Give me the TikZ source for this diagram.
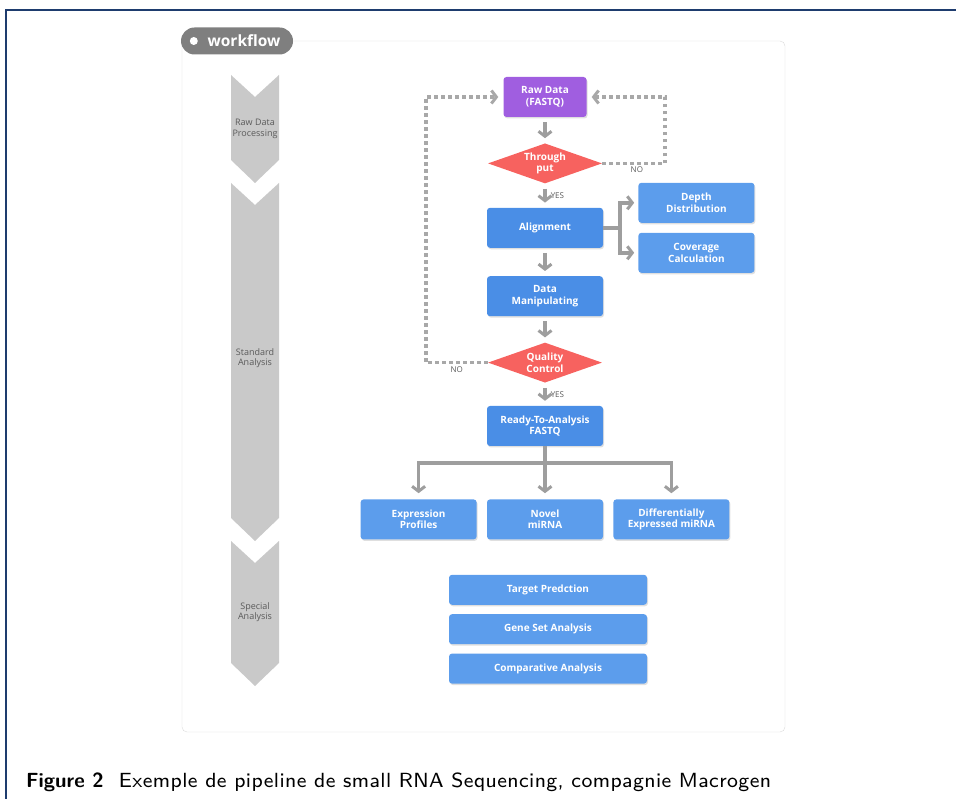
\documentclass[tikz,border=0pt]{standalone}
\usepackage{fontspec}
\newfontfamily\boxfont{Open Sans}
\newfontfamily\capfont{lmsans8-regular}[Extension=.otf, LetterSpace=2,
  BoldFont=lmsans10-bold, BoldFeatures={LetterSpace=0}]
\usepackage{tikz}
\usetikzlibrary{positioning, shapes.geometric, arrows.meta, shadows}
\definecolor{procblue}{HTML}{4A8EE6}
\definecolor{subblue}{HTML}{5C9DEC}
\definecolor{rawpurple}{HTML}{A05EE0}
\definecolor{decred}{HTML}{F7625F}
\definecolor{arrowgray}{HTML}{9E9E9E}
\definecolor{dotgray}{HTML}{A8A8A8}
\definecolor{chevgray}{HTML}{C9C9C9}
\definecolor{stagegray}{HTML}{5A5A5A}
\definecolor{panelline}{HTML}{DADADA}
\definecolor{pillgray}{HTML}{7F7F7F}
\definecolor{framenavy}{HTML}{1E3C6E}
\tikzset{>={Straight Barb[length=5pt, width=13pt, line width=3pt]}}
\tikzset{
  proc/.style={rectangle, rounded corners=3pt, fill=procblue, text=white,
    font=\boxfont\bfseries\fontsize{10}{11.5}\selectfont, align=center,
    minimum width=116pt, minimum height=40pt, inner sep=0pt,
    drop shadow={shadow xshift=1pt, shadow yshift=-1.5pt, opacity=.25}},
  subproc/.style={proc, fill=subblue},
  wideproc/.style={subproc, minimum width=198pt, minimum height=30pt},
  start/.style={proc, fill=rawpurple, minimum width=83pt},
  decision/.style={diamond, aspect=2.85, fill=decred, text=white,
    font=\boxfont\bfseries\fontsize{10}{11.5}\selectfont, align=center,
    minimum width=114pt, minimum height=40pt, inner sep=0pt},
  flow/.style={draw=arrowgray, line width=3.5pt, ->, shorten <=5pt, shorten >=5pt},
  flowline/.style={draw=arrowgray, line width=3.5pt},
  dotline/.style={draw=dotgray, line width=3.5pt, dash pattern=on 3.5pt off 3.5pt, ->, shorten >=5pt},
  stage/.style={text=stagegray, font=\boxfont\fontsize{9}{10.5}\selectfont, align=center},
  answer/.style={text=stagegray, font=\boxfont\fontsize{8}{9}\selectfont, inner sep=2pt},
  pill/.style={fill=pillgray, text=white, rounded corners=13.5pt, minimum width=112pt,
    minimum height=27pt, font=\boxfont\bfseries\fontsize{15.5}{17}\selectfont},
  caption/.style={font=\capfont\fontsize{20.5}{23}\selectfont, inner sep=0pt}
}

\begin{document}
\begin{tikzpicture}[x=1pt, y=-1pt]
\useasboundingbox (0,0) rectangle (956,799);
\draw[framenavy, line width=1.5pt] (6,799) -- (6,10) -- (956,10);
\draw[panelline, rounded corners=5pt] (182,41) rectangle (785,732);
\node[pill] (wf) at (237,41) {\hspace{14pt}workflow};
\fill[white] ([xshift=13pt]wf.west) circle (4);

\foreach \ytop/\ybot in {75/183, 183/541, 541/686}
  \fill[chevgray] (231,\ytop) -- (255,\ytop+22) -- (279,\ytop) -- (279,\ybot-23)
    -- (255,\ybot) -- (231,\ybot-23) -- cycle;
\node[stage] (rawstage) at (255,129) {Raw Data\\Processing};
\node[stage] (stdstage) at (255,358) {Standard\\Analysis};
\node[stage] (spcstage) at (255,612) {Special\\Analysis};

\node[start] (raw) at (545,97) {Raw Data\\(FASTQ)};
\node[decision, below=26pt of raw] (thru) {Through\\put};
\node[proc, below=24pt of thru] (align) {Alignment};
\node[subproc, right=35pt of align, yshift=25pt] (depth) {Depth\\Distribution};
\node[subproc, right=35pt of align, yshift=-25pt] (cover) {Coverage\\Calculation};
\node[proc, below=28pt of align] (manip) {Data\\Manipulating};
\node[decision, below=26pt of manip] (qc) {Quality\\Control};
\node[proc, below=23pt of qc] (ready) {Ready-To-Analysis\\FASTQ};
\node[subproc, below=53pt of ready] (novel) {Novel\\miRNA};
\node[subproc, left=10pt of novel] (expr) {Expression\\Profiles};
\node[subproc, right=10pt of novel] (diff) {Differentially\\Expressed miRNA};
\node[wideproc, below=35pt of novel, xshift=3pt] (target) {Target Predction};
\node[wideproc, below=9pt of target] (geneset) {Gene Set Analysis};
\node[wideproc, below=9pt of geneset] (compar) {Comparative Analysis};

\draw[flow] (raw) -- (thru);
\draw[flow] (thru) -- node[answer, right, xshift=2pt] (yes1) {YES} (align);
\draw[flow] (align) -- (manip);
\draw[flow] (manip) -- (qc);
\draw[flow] (qc) -- node[answer, right, xshift=2pt] (yes2) {YES} (ready);
\draw[dotline] (thru.east) -- node[answer, below, pos=.55] (no1) {NO} ++(63,0) |- (raw.east);
\draw[dotline] (qc.west) -- node[answer, below, pos=.5] (no2) {NO} ++(-62,0) |- (raw.west);

\draw[flowline] (align.east) -- ++(17,0) coordinate (split);
\draw[flow, shorten <=0pt, shorten >=4pt] (split) |- (depth);
\draw[flow, shorten <=0pt, shorten >=4pt] (split) |- (cover);

\draw[flowline] (ready.south) -- ++(0,17) coordinate (fork);
\draw[flow, shorten <=0pt, shorten >=6pt] (fork) -| (expr);
\draw[flow, shorten <=0pt, shorten >=6pt] (fork) -- (novel);
\draw[flow, shorten <=0pt, shorten >=6pt] (fork) -| (diff);

\node[caption, anchor=base west] (cap) at (26,787)
  {\textbf{Figure 2}\ \ Exemple de pipeline de small RNA Sequencing, compagnie Macrogen};
\end{tikzpicture}
\end{document}
